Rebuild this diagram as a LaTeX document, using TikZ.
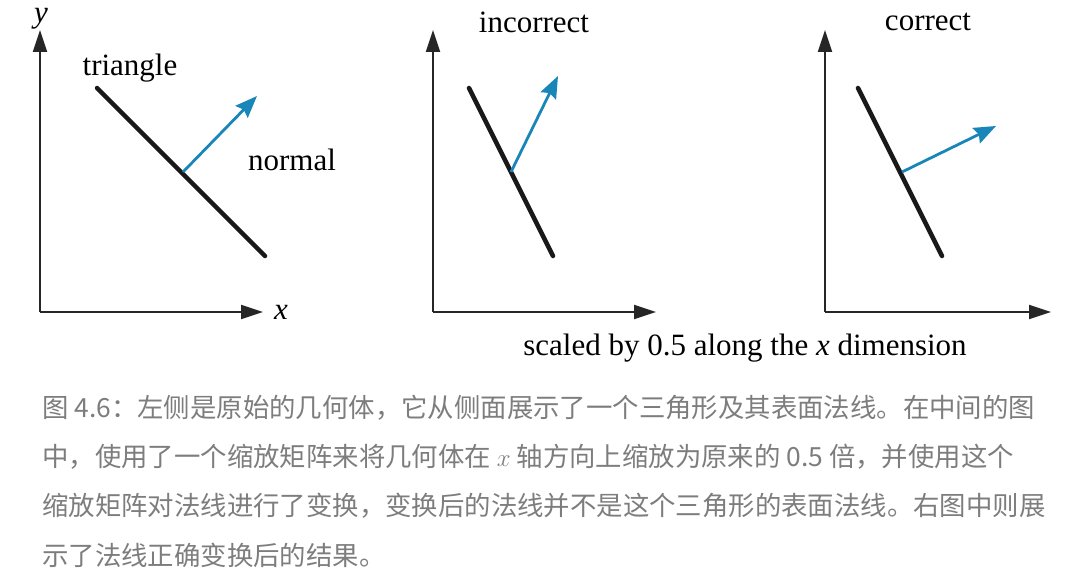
\documentclass[tikz,border=0pt]{standalone}
\usepackage{fontspec}
\setmainfont{Liberation Serif}
\newfontfamily\capfont{Noto Sans CJK SC}
\usetikzlibrary{positioning,arrows.meta}
\definecolor{normalblue}{RGB}{24,134,184}
\definecolor{axisgray}{RGB}{38,38,38}
\definecolor{capgray}{RGB}{125,125,125}

\begin{document}
\begin{tikzpicture}[x=1pt, y=-1pt,
  % Line Styles
  axis/.style={-{Triangle[length=22pt, width=14pt]}, line width=2pt, draw=axisgray},
  tri/.style={line width=4.5pt, draw=black!90, line cap=round},
  normalarrow/.style={-{Stealth[length=22pt, width=17pt, inset=3pt]}, line width=2.8pt, draw=normalblue},
  % Text Styles
  lbl/.style={inner sep=0pt, font=\fontsize{31}{37}\selectfont},
  caption/.style={inner sep=0pt, anchor=west, text=capgray, font=\capfont\fontsize{26.4}{30}\selectfont},
]
\useasboundingbox (0,0) rectangle (1083,583);

% Left: original geometry
\coordinate (O1) at (40,312);
\coordinate (Y1) at (40,30);
\coordinate (X1) at (263,312);
\coordinate (T1a) at (97,88);
\coordinate (T1b) at (265,256);
\coordinate (N1a) at (183,172);
\coordinate (N1b) at (257,96);
\draw[axis] (O1) -- (Y1);
\draw[axis] (O1) -- (X1);
\draw[tri] (T1a) -- (T1b);
\draw[normalarrow] (N1a) -- (N1b);
\node[lbl] (ylab) at (41,19) {\itshape y};
\node[lbl] (xlab) at (281,312) {\itshape x};
\node[lbl] (trilab) at (130,68) {triangle};
\node[lbl] (normlab) at (292,160) {normal};

% Middle: incorrect
\coordinate (O2) at (433,312);
\coordinate (Y2) at (433,30);
\coordinate (X2) at (656,312);
\coordinate (T2a) at (469,88);
\coordinate (T2b) at (553,256);
\coordinate (N2a) at (511,172);
\coordinate (N2b) at (558,76);
\draw[axis] (O2) -- (Y2);
\draw[axis] (O2) -- (X2);
\draw[tri] (T2a) -- (T2b);
\draw[normalarrow] (N2a) -- (N2b);
\node[lbl] (inclab) at (534,22) {incorrect};

% Right: correct
\coordinate (O3) at (825,312);
\coordinate (Y3) at (825,30);
\coordinate (X3) at (1051,312);
\coordinate (T3a) at (858,88);
\coordinate (T3b) at (942,256);
\coordinate (N3a) at (902,172);
\coordinate (N3b) at (996,126);
\draw[axis] (O3) -- (Y3);
\draw[axis] (O3) -- (X3);
\draw[tri] (T3a) -- (T3b);
\draw[normalarrow] (N3a) -- (N3b);
\node[lbl] (corlab) at (928,22) {correct};

\node[lbl] (scalelab) at (745,348) {scaled by 0.5 along the \textit{x} dimension};

% Caption
\node[caption] (cap1) at (42,408) {图 4.6：左侧是原始的几何体，它从侧面展示了一个三角形及其表面法线。在中间的图};
\node[caption] (cap2) at (42,457) {中，使用了一个缩放矩阵来将几何体在 $x$ 轴方向上缩放为原来的 0.5 倍，并使用这个};
\node[caption] (cap3) at (42,506) {缩放矩阵对法线进行了变换，变换后的法线并不是这个三角形的表面法线。右图中则展};
\node[caption] (cap4) at (42,555) {示了法线正确变换后的结果。};

\end{tikzpicture}
\end{document}
